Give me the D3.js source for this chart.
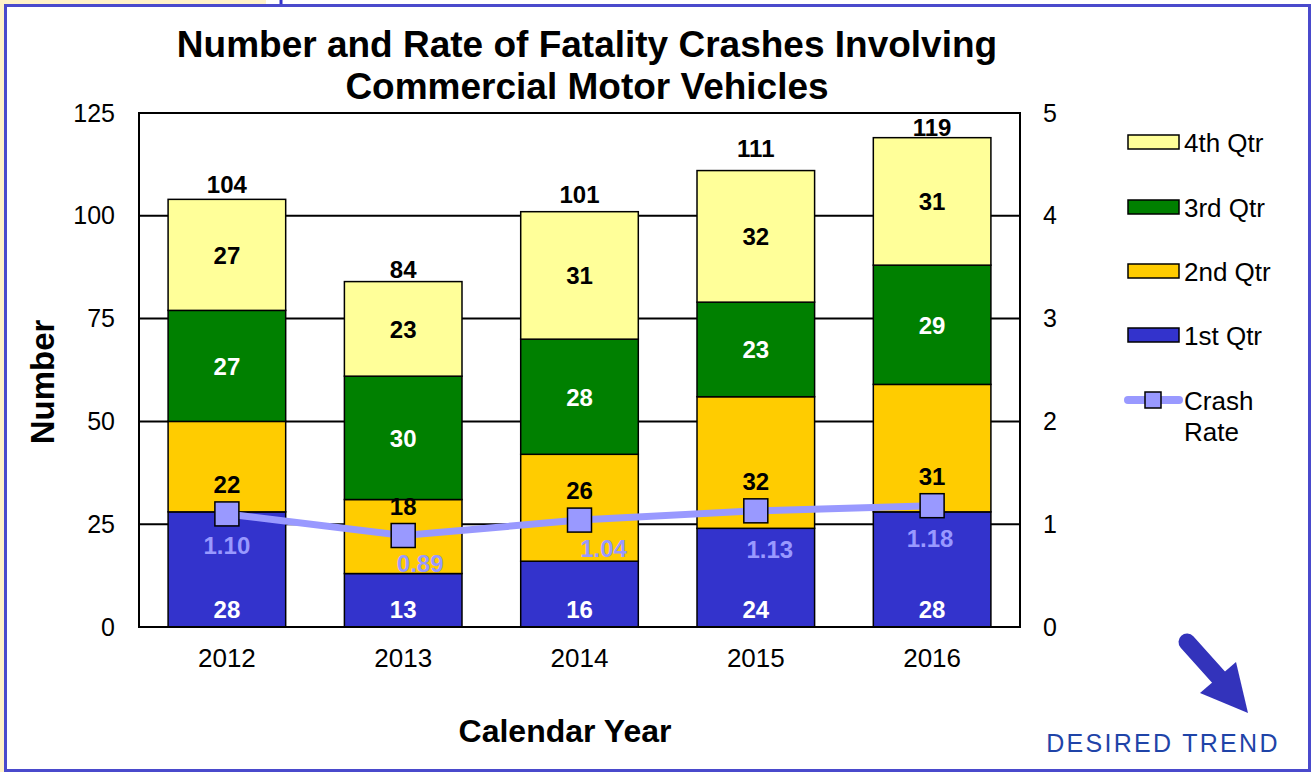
<!DOCTYPE html>
<html>
<head>
<meta charset="utf-8">
<script src="https://cdn.jsdelivr.net/npm/d3@7"></script>
<style>
  body { margin: 0; background: #fff; }
  text { font-family: "Liberation Sans", Arial, sans-serif; }
</style>
</head>
<body>
<script>
var w = 1316;
var h = 772;

var years = ["2012", "2013", "2014", "2015", "2016"];
var quarters = ["1st Qtr", "2nd Qtr", "3rd Qtr", "4th Qtr"];
var q1 = [28, 13, 16, 24, 28];
var q2 = [22, 18, 26, 32, 31];
var q3 = [27, 30, 28, 23, 29];
var q4 = [27, 23, 31, 32, 31];
var crashRate = [1.10, 0.89, 1.04, 1.13, 1.18];
var leftTicks = [0, 25, 50, 75, 100, 125];
var rightTicks = [0, 1, 2, 3, 4, 5];

var colors = ["#3333cc", "#ffcc00", "#008000", "#ffff99"];
var labelColors = ["#ffffff", "#000000", "#ffffff", "#000000"];
var rateColor = "#9999ff";

var plot = { left: 139, right: 1020, top: 113, bottom: 627 };
// hand-placed nudges of the labels (px), as in the original
var rateLabelDx = [0, 17, 24, 14, -2];
var rateLabelDy = [40, 36, 37, 47, 41];
var totalLabelDy = [-6, -4, -9, -14, -2];

// build rows for the stack
var rows = years.map(function (y, i) {
  return { year: y, "1st Qtr": q1[i], "2nd Qtr": q2[i], "3rd Qtr": q3[i], "4th Qtr": q4[i], rate: crashRate[i] };
});
var series = d3.stack().keys(quarters)(rows);

var xScale = d3.scaleBand()
  .domain(years)
  .range([plot.left, plot.right])
  .paddingInner(0.333)
  .paddingOuter(0.165);

var yScale = d3.scaleLinear().domain([0, 125]).range([plot.bottom, plot.top]);
var yRate = d3.scaleLinear().domain([0, 5]).range([plot.bottom, plot.top]);

var svg = d3.select("body").append("svg").attr("width", w).attr("height", h);

// page frame
svg.append("rect").attr("x", 0).attr("y", 0).attr("width", 266).attr("height", 5).attr("fill", "#fff2c8");
svg.append("rect").attr("x", 0).attr("y", 0).attr("width", 4).attr("height", h).attr("fill", "#fff2c8");
svg.append("line").attr("x1", 281).attr("x2", 281).attr("y1", 0).attr("y2", 6)
  .attr("stroke", "#3333cc").attr("stroke-width", 3);
svg.append("rect").attr("x", 5.5).attr("y", 5.5).attr("width", 1304).attr("height", 765)
  .attr("fill", "#fff").attr("stroke", "#4a4acc").attr("stroke-width", 3);

// title
svg.append("text").attr("x", 587).attr("y", 57).attr("text-anchor", "middle")
  .attr("font-size", "37px").attr("font-weight", "bold")
  .text("Number and Rate of Fatality Crashes Involving");
svg.append("text").attr("x", 587).attr("y", 99).attr("text-anchor", "middle")
  .attr("font-size", "37px").attr("font-weight", "bold")
  .text("Commercial Motor Vehicles");

// gridlines
svg.append("g").selectAll("line")
  .data(leftTicks.slice(1, -1))
  .enter().append("line")
  .attr("x1", plot.left).attr("x2", plot.right)
  .attr("y1", function (d) { return yScale(d); })
  .attr("y2", function (d) { return yScale(d); })
  .attr("stroke", "#000").attr("stroke-width", 2);

// bars
svg.append("g").selectAll("g")
  .data(series)
  .enter().append("g")
  .attr("fill", function (d, i) { return colors[i]; })
  .selectAll("rect")
  .data(function (d) { return d; })
  .enter().append("rect")
  .attr("x", function (d) { return xScale(d.data.year); })
  .attr("y", function (d) { return yScale(d[1]); })
  .attr("width", xScale.bandwidth())
  .attr("height", function (d) { return yScale(d[0]) - yScale(d[1]); })
  .attr("stroke", "#000").attr("stroke-width", 1.5);

// plot frame
svg.append("rect").attr("x", plot.left).attr("y", plot.top)
  .attr("width", plot.right - plot.left).attr("height", plot.bottom - plot.top)
  .attr("fill", "none").attr("stroke", "#000").attr("stroke-width", 2);

// axes
var leftAxis = svg.append("g").attr("transform", "translate(" + plot.left + ",0)")
  .call(d3.axisLeft(yScale).tickValues(leftTicks).tickSize(0).tickPadding(24));
var rightAxis = svg.append("g").attr("transform", "translate(" + plot.right + ",0)")
  .call(d3.axisRight(yRate).tickValues(rightTicks).tickSize(0).tickPadding(23).tickFormat(d3.format("d")));
var bottomAxis = svg.append("g").attr("transform", "translate(0," + plot.bottom + ")")
  .call(d3.axisBottom(xScale).tickSize(0).tickPadding(22));
[leftAxis, rightAxis, bottomAxis].forEach(function (a) {
  a.select(".domain").remove();
  a.selectAll("text").attr("font-family", "Liberation Sans, Arial, sans-serif")
    .attr("font-size", "25px").attr("fill", "#000");
});
bottomAxis.selectAll("text").attr("font-size", "26px");

// axis titles
svg.append("text").attr("transform", "translate(54,382) rotate(-90)")
  .attr("text-anchor", "middle").attr("font-size", "33px").attr("font-weight", "bold")
  .text("Number");
svg.append("text").attr("x", 565).attr("y", 742).attr("text-anchor", "middle")
  .attr("font-size", "32px").attr("font-weight", "bold")
  .text("Calendar Year");

// crash rate line
var line = d3.line()
  .x(function (d) { return xScale(d.year) + xScale.bandwidth() / 2; })
  .y(function (d) { return yRate(d.rate); });
svg.append("path").datum(rows).attr("d", line)
  .attr("fill", "none").attr("stroke", rateColor).attr("stroke-width", 7);
svg.append("g").selectAll("rect")
  .data(rows)
  .enter().append("rect")
  .attr("x", function (d) { return xScale(d.year) + xScale.bandwidth() / 2 - 12; })
  .attr("y", function (d) { return yRate(d.rate) - 12; })
  .attr("width", 24).attr("height", 24)
  .attr("fill", rateColor).attr("stroke", "#000").attr("stroke-width", 1.5);

// segment labels
var labels = svg.append("g").attr("font-size", "24px").attr("font-weight", "bold").attr("text-anchor", "middle");
series.forEach(function (s, k) {
  labels.selectAll(null)
    .data(s)
    .enter().append("text")
    .attr("x", function (d) { return xScale(d.data.year) + xScale.bandwidth() / 2; })
    .attr("y", function (d) {
      if (k === 0) return yScale(0) - 9;
      if (k === 1) return yRate(d.data.rate) - 21;
      return (yScale(d[0]) + yScale(d[1])) / 2 + 9;
    })
    .attr("fill", labelColors[k])
    .text(function (d) { return d[1] - d[0]; });
});

// totals
labels.selectAll(null)
  .data(series[3])
  .enter().append("text")
  .attr("x", function (d) { return xScale(d.data.year) + xScale.bandwidth() / 2; })
  .attr("y", function (d, i) { return yScale(d[1]) + totalLabelDy[i]; })
  .attr("fill", "#000")
  .text(function (d) { return d[1]; });

// rate labels
labels.selectAll(null)
  .data(rows)
  .enter().append("text")
  .attr("x", function (d, i) { return xScale(d.year) + xScale.bandwidth() / 2 + rateLabelDx[i]; })
  .attr("y", function (d, i) { return yRate(d.rate) + rateLabelDy[i]; })
  .attr("fill", rateColor)
  .text(function (d) { return d.rate.toFixed(2); });

// legend
var legendY = [335, 271, 207, 142];
var legend = svg.append("g");
quarters.forEach(function (q, i) {
  legend.append("rect").attr("x", 1128).attr("y", legendY[i] - 7).attr("width", 51).attr("height", 14)
    .attr("fill", colors[i]).attr("stroke", "#000").attr("stroke-width", 1.5);
  legend.append("text").attr("x", 1184).attr("y", legendY[i] + 9.5).attr("font-size", "26px").text(q);
});
legend.append("line").attr("x1", 1128).attr("x2", 1179).attr("y1", 400).attr("y2", 400)
  .attr("stroke", rateColor).attr("stroke-width", 8).attr("stroke-linecap", "round");
legend.append("rect").attr("x", 1145).attr("y", 392).attr("width", 16).attr("height", 16)
  .attr("fill", rateColor).attr("stroke", "#000").attr("stroke-width", 1.5);
legend.append("text").attr("x", 1184).attr("y", 409.5).attr("font-size", "26px").text("Crash");
legend.append("text").attr("x", 1184).attr("y", 440.5).attr("font-size", "26px").text("Rate");

// desired trend arrow
var arrowColor = "#3333bb";
svg.append("line").attr("x1", 1187).attr("y1", 642).attr("x2", 1222).attr("y2", 681)
  .attr("stroke", arrowColor).attr("stroke-width", 17).attr("stroke-linecap", "round");
svg.append("path").attr("d", "M1200,693 L1236,662 L1248,713 Z").attr("fill", arrowColor);
svg.append("text").attr("x", 1163).attr("y", 752).attr("text-anchor", "middle")
  .attr("font-size", "25px").attr("letter-spacing", "2.3px").attr("fill", "#1f44a8")
  .text("DESIRED TREND");
</script>
</body>
</html>
